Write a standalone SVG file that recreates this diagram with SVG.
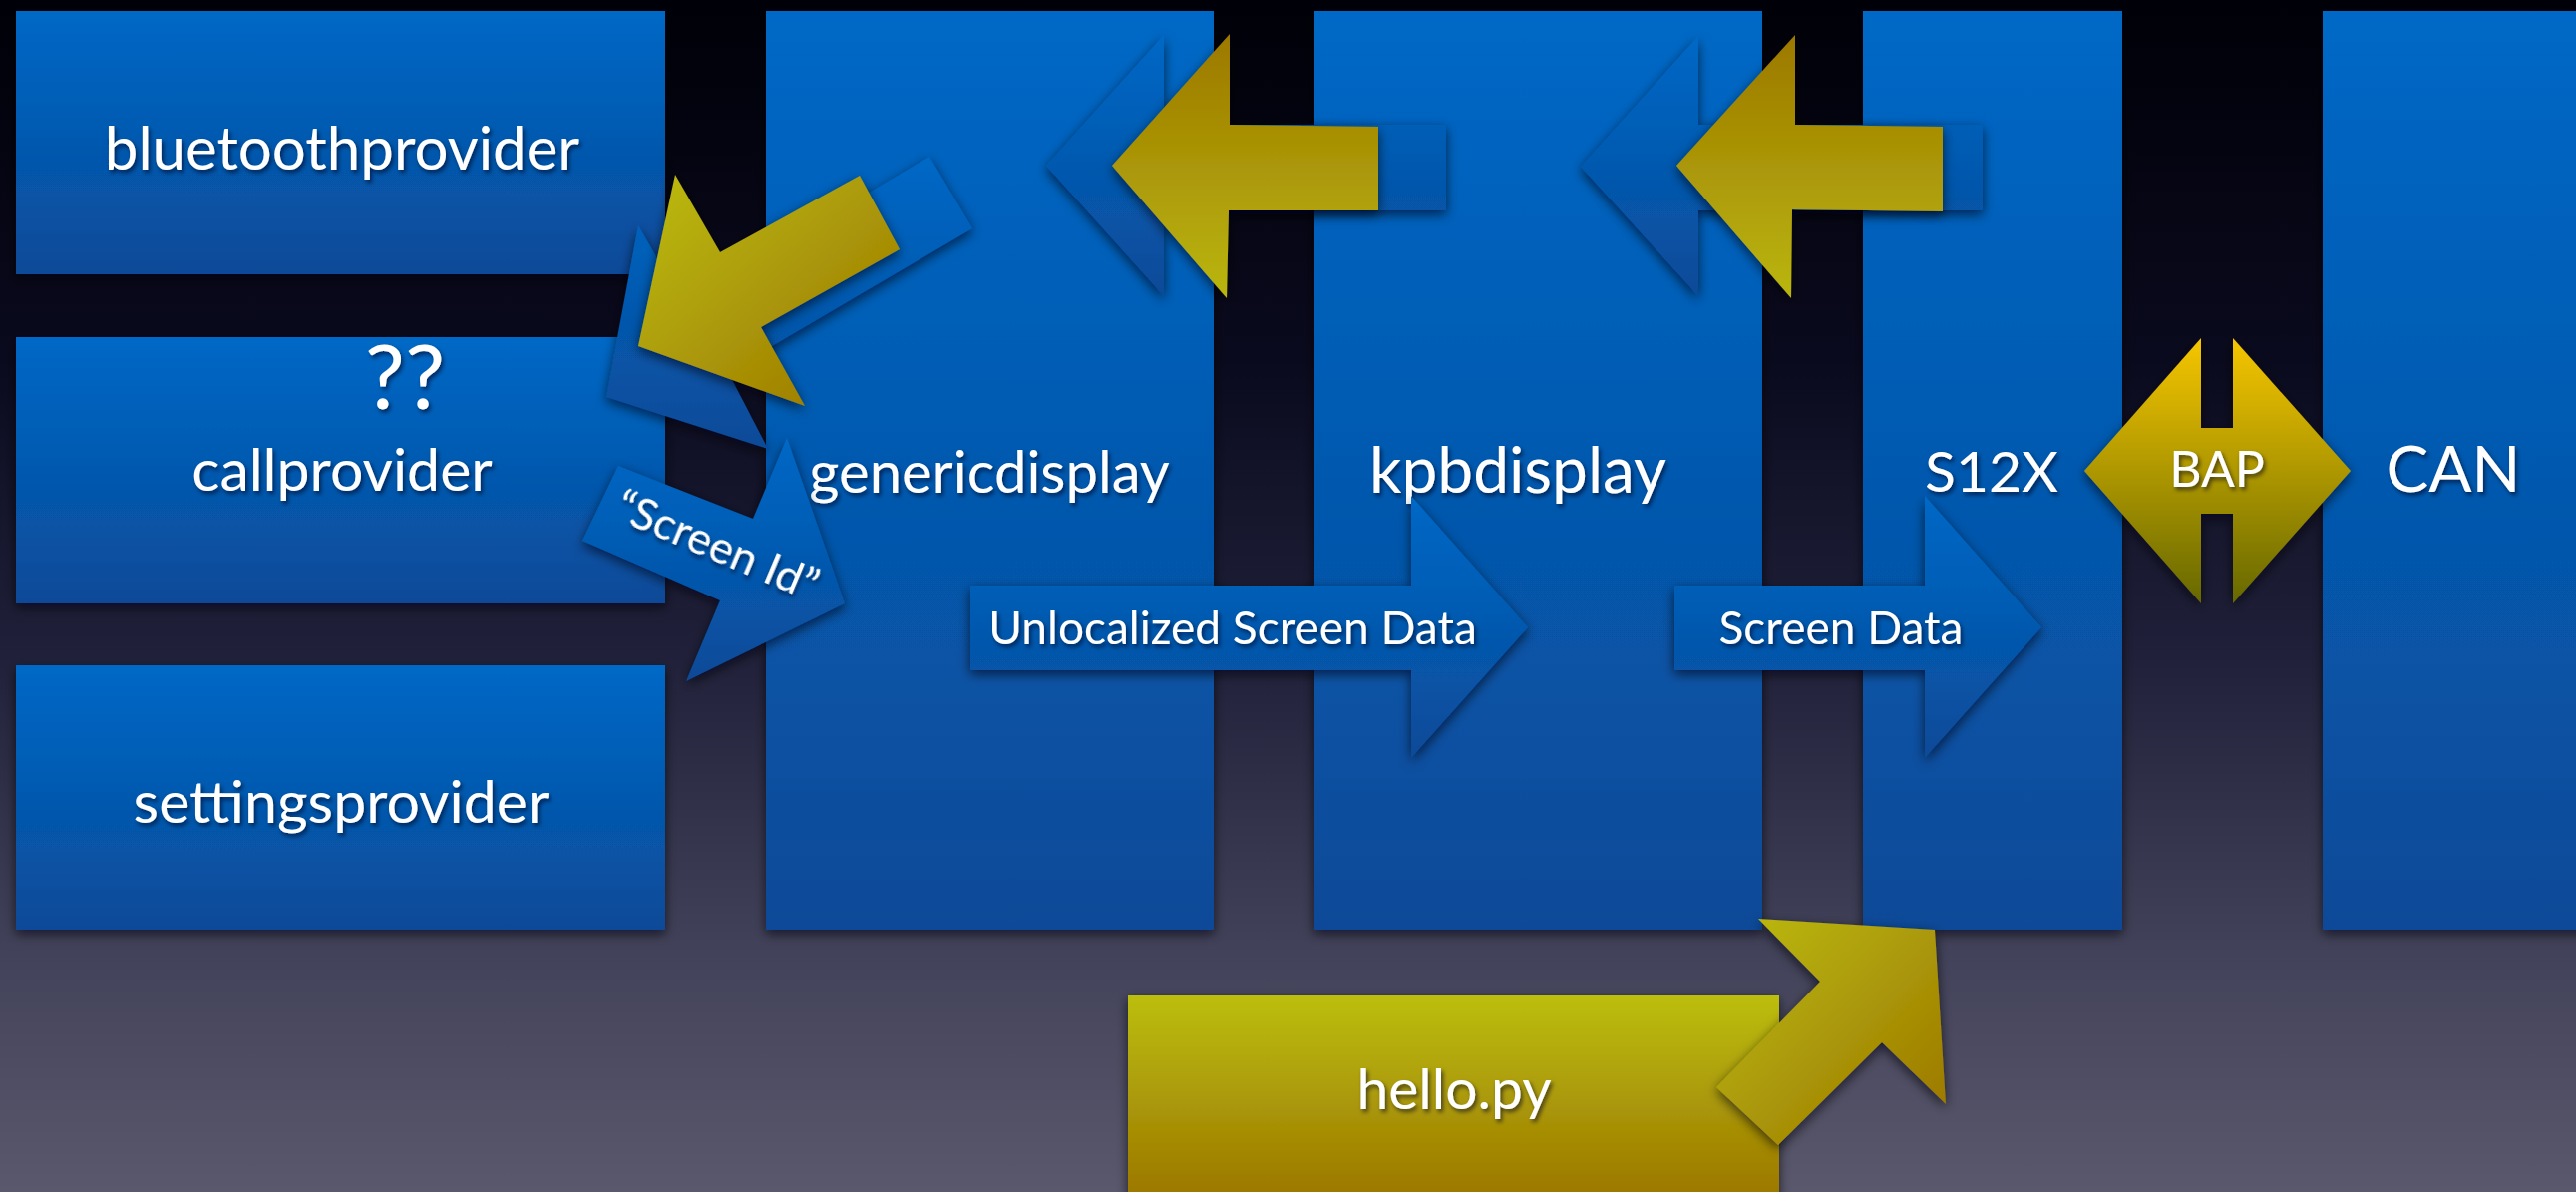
<svg xmlns="http://www.w3.org/2000/svg" width="2583" height="1195" viewBox="0 0 2583 1195">
<defs>
  <linearGradient id="bg" x1="0" y1="0" x2="0" y2="1">
    <stop offset="0" stop-color="#000008"/>
    <stop offset="0.3" stop-color="#0a0a1e"/>
    <stop offset="0.55" stop-color="#20203a"/>
    <stop offset="0.8" stop-color="#42425a"/>
    <stop offset="1" stop-color="#5a586c"/>
  </linearGradient>
  <linearGradient id="blue" x1="0" y1="0" x2="0" y2="1">
    <stop offset="0" stop-color="#0068c6"/>
    <stop offset="1" stop-color="#0a4a98"/>
  </linearGradient>
  <linearGradient id="yellowV" x1="0" y1="0" x2="0" y2="1">
    <stop offset="0" stop-color="#9c7800"/>
    <stop offset="1" stop-color="#bab60e"/>
  </linearGradient>
  <linearGradient id="yellowBox" x1="0" y1="0" x2="0" y2="1">
    <stop offset="0" stop-color="#bcbe10"/>
    <stop offset="1" stop-color="#9a7400"/>
  </linearGradient>
  <linearGradient id="yellowD" x1="0" y1="0" x2="1" y2="1">
    <stop offset="0" stop-color="#bcbc10"/>
    <stop offset="1" stop-color="#9a7400"/>
  </linearGradient>
  <linearGradient id="bap" x1="0" y1="0" x2="0" y2="1">
    <stop offset="0" stop-color="#f6c600"/>
    <stop offset="1" stop-color="#666800"/>
  </linearGradient>
  <filter id="sh" x="-20%" y="-20%" width="140%" height="140%">
    <feDropShadow dx="0" dy="4" stdDeviation="6" flood-color="#000010" flood-opacity="0.65"/>
  </filter>
  <filter id="tsh" x="-10%" y="-20%" width="120%" height="150%">
    <feDropShadow dx="2" dy="3" stdDeviation="2" flood-color="#000020" flood-opacity="0.6"/>
  </filter>
</defs>
<style>
  .node { fill: url(#blue); filter: url(#sh); }
  .barrow { fill: url(#blue); filter: url(#sh); }
  .yarrow { fill: url(#yellowV); filter: url(#sh); }
  .yd { fill: url(#yellowD); filter: url(#sh); }
  .lbl { font-family: Lato, "Liberation Sans", sans-serif; fill: #ffffff; text-anchor: middle; filter: url(#tsh); }
  .big { font-size: 60px; }
  .mid { font-size: 46px; }
</style>
<rect x="0" y="0" width="2583" height="1195" fill="url(#bg)"/>

<g id="bluetoothprovider">
  <rect class="node" x="16" y="11" width="651" height="264"/>
  <text class="lbl big" x="343" y="170">bluetoothprovider</text>
</g>
<g id="callprovider">
  <rect class="node" x="16" y="338" width="651" height="267"/>
  <text class="lbl" font-size="90" x="406" y="410">??</text>
  <text class="lbl" font-size="59" x="343" y="492">callprovider</text>
</g>
<g id="settingsprovider">
  <rect class="node" x="16" y="667" width="651" height="265"/>
  <text class="lbl" font-size="59" x="342" y="825">settingsprovider</text>
</g>
<g id="genericdisplay">
  <rect class="node" x="768" y="11" width="449" height="921"/>
  <rect x="815" y="296" width="3" height="11" fill="#e8eef8" transform="rotate(8 816 301)"/>
  <text class="lbl" font-size="58" x="992" y="494">genericdisplay</text>
</g>
<g id="kpbdisplay">
  <rect class="node" x="1318" y="11" width="449" height="921"/>
  <text class="lbl" font-size="64" x="1522" y="494">kpbdisplay</text>
</g>
<g id="S12X">
  <rect class="node" x="1868" y="11" width="260" height="921"/>
  <text class="lbl" font-size="57" x="1997" y="493">S12X</text>
</g>
<g id="CAN">
  <rect class="node" x="2329" y="11" width="270" height="921"/>
  <text class="lbl" font-size="64" x="2460" y="493">CAN</text>
</g>
<g id="hello.py">
  <rect x="1131" y="998" width="653" height="210" fill="url(#yellowBox)" filter="url(#sh)"/>
  <text class="lbl" font-size="57" x="1458" y="1112">hello.py</text>
</g>

<g id="connectors">
  <g id="unlocalized">
    <polygon class="barrow" points="973,587 1415,587 1415,497 1532,629 1415,760 1415,672 973,672"/>
    <text class="lbl mid" x="1236" y="646">Unlocalized Screen Data</text>
  </g>
  <g id="screendata">
    <polygon class="barrow" points="1679,587 1930,587 1930,497 2047,629 1930,760 1930,672 1679,672"/>
    <text class="lbl mid" x="1846" y="646">Screen Data</text>
  </g>
  <polygon class="barrow" points="1049,166 1167,35 1167,125 1450,125 1450,211 1167,211 1167,297"/>
  <polygon class="yarrow" points="1115,166 1233,34 1233,125 1382,127 1382,211 1232,211 1230,299"/>
  <polygon class="barrow" points="1585,167 1703,36 1703,125 1988,125 1988,211 1703,211 1703,297"/>
  <polygon class="yarrow" points="1681,166 1800,35 1800,125 1948,127 1948,212 1797,210 1796,299"/>
  <polygon class="barrow" points="608,398 640,226 685,304 932,157 975,229 730,373 770,450"/>
  <polygon class="yd" points="640,347 677,175 722,253 862,176 902,250 763,328 807,407"/>
  <g id="screenid">
    <polygon class="barrow" points="620,467 755,520 789,439 847,605 688,683 722,602 584,542"/>
    <text class="lbl" font-size="45" transform="translate(713,561) rotate(23)" x="0" y="0">“Screen Id”</text>
  </g>
  <g id="bap">
    <path d="M2090,472 L2207,339 L2207,429 L2239,429 L2239,339 L2357,472 L2239,605 L2239,515 L2207,515 L2207,605 Z" fill="url(#bap)" filter="url(#sh)"/>
    <text class="lbl" font-size="50" x="2223" y="488">BAP</text>
  </g>
  <polygon class="yd" points="1721,1090 1825,984 1763,921 1940,932 1951,1107 1887,1045 1783,1148"/>
</g>
</svg>
